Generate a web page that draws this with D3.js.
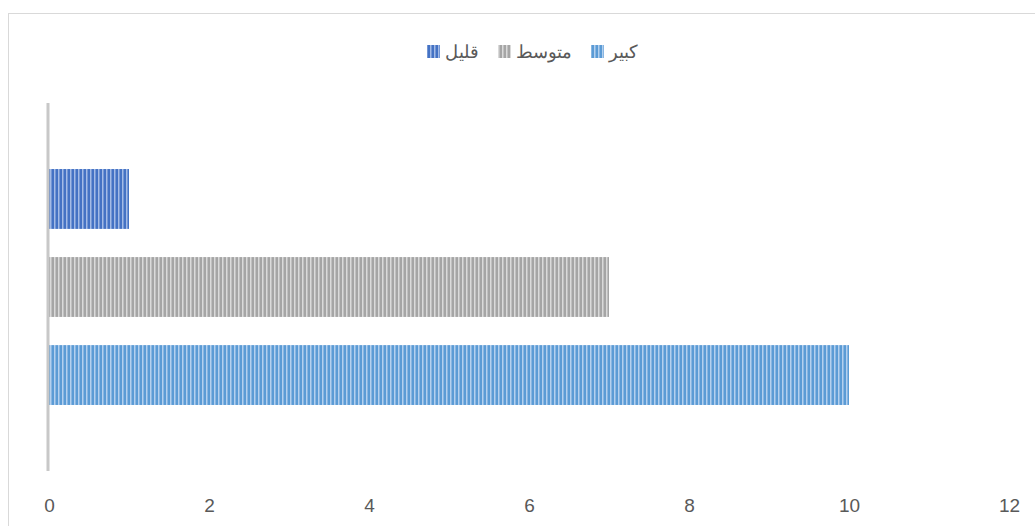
<!DOCTYPE html>
<html>
<head>
<meta charset="utf-8">
<script src="https://cdn.jsdelivr.net/npm/d3@7"></script>
<style>
	body { margin: 0; background: #fff; }
	svg text { font-family: "Liberation Sans", Arial, sans-serif; }
</style>
</head>
<body>
<div id="chart"></div>
<script>
(function () {
	"use strict";

	// bottom to top in the plot, right to left in the legend
	var series = ['كبير', 'متوسط', 'قليل'];
	var values = [10, 7, 1];
	var colors = ['#5b9bd5', '#a5a5a5', '#4472c4'];
	var lightColors = ['#b4d0ee', '#dadada', '#a4bbe6'];
	var ticks = [0, 2, 4, 6, 8, 10, 12];

	var WIDTH = 1035;
	var HEIGHT = 526;
	var PLOT = { left: 49, right: 1009, top: 103, bottom: 471 };

	var svg = d3.select('#chart').append('svg')
		.attr('width', WIDTH)
		.attr('height', HEIGHT);

	// striped fills like the Excel "dark vertical" pattern
	var defs = svg.append('defs');
	series.forEach(function (name, i) {
		var p = defs.append('pattern')
			.attr('id', 'stripe' + i)
			.attr('patternUnits', 'userSpaceOnUse')
			.attr('width', 4)
			.attr('height', 4);
		p.append('rect').attr('width', 4).attr('height', 4).attr('fill', colors[i]);
		p.append('rect').attr('x', 2).attr('width', 1).attr('height', 4).attr('fill', lightColors[i]);
		p.append('rect').attr('x', 3).attr('width', 1).attr('height', 4).attr('fill', d3.interpolateRgb(colors[i], lightColors[i])(0.5));
	});

	// chart border (only top and left visible inside the window)
	svg.append('rect')
		.attr('x', 8.5)
		.attr('y', 13.5)
		.attr('width', 1100)
		.attr('height', 600)
		.attr('fill', 'none')
		.attr('stroke', '#d9d9d9');

	var x = d3.scaleLinear().domain([0, 12]).range([PLOT.left, PLOT.right]);
	var y = d3.scaleBand()
		.domain(series)
		.range([PLOT.bottom, PLOT.top])
		.paddingInner(0.32)
		.paddingOuter(0.75);

	svg.append('g')
		.selectAll('rect')
		.data(values)
		.enter()
		.append('rect')
		.attr('x', x(0))
		.attr('y', function (d, i) { return y(series[i]); })
		.attr('width', function (d) { return x(d) - x(0); })
		.attr('height', y.bandwidth())
		.attr('fill', function (d, i) { return 'url(#stripe' + i + ')'; });

	// vertical category axis line
	svg.append('line')
		.attr('x1', x(0) - 1)
		.attr('x2', x(0) - 1)
		.attr('y1', PLOT.top)
		.attr('y2', PLOT.bottom)
		.attr('stroke', '#c8c8c8')
		.attr('stroke-width', 3);

	// value axis labels
	var xAxis = svg.append('g')
		.attr('transform', 'translate(0,' + (PLOT.bottom + 27) + ')')
		.call(d3.axisBottom(x).tickValues(ticks).tickSize(0).tickPadding(0));
	xAxis.select('.domain').remove();
	xAxis.selectAll('text')
		.attr('font-size', 19)
		.attr('fill', '#595959')
		.style('font-family', '"Liberation Sans", Arial, sans-serif');

	// legend, laid out right to left
	var legend = svg.append('g').attr('transform', 'translate(0,51)');
	var cursor = 638;
	series.forEach(function (name, i) {
		var item = legend.append('g');
		var label = item.append('text')
			.text(name)
			.attr('font-size', 18)
			.attr('fill', '#595959')
			.attr('direction', 'rtl')
			.attr('text-anchor', 'start')
			.attr('x', cursor)
			.attr('y', 7);
		var w = label.node().getComputedTextLength();
		item.append('rect')
			.attr('x', cursor - w - 18)
			.attr('y', -6)
			.attr('width', 13)
			.attr('height', 13)
			.attr('fill', 'url(#stripe' + i + ')');
		cursor = cursor - w - 18 - 19;
	});
}());
</script>
</body>
</html>
